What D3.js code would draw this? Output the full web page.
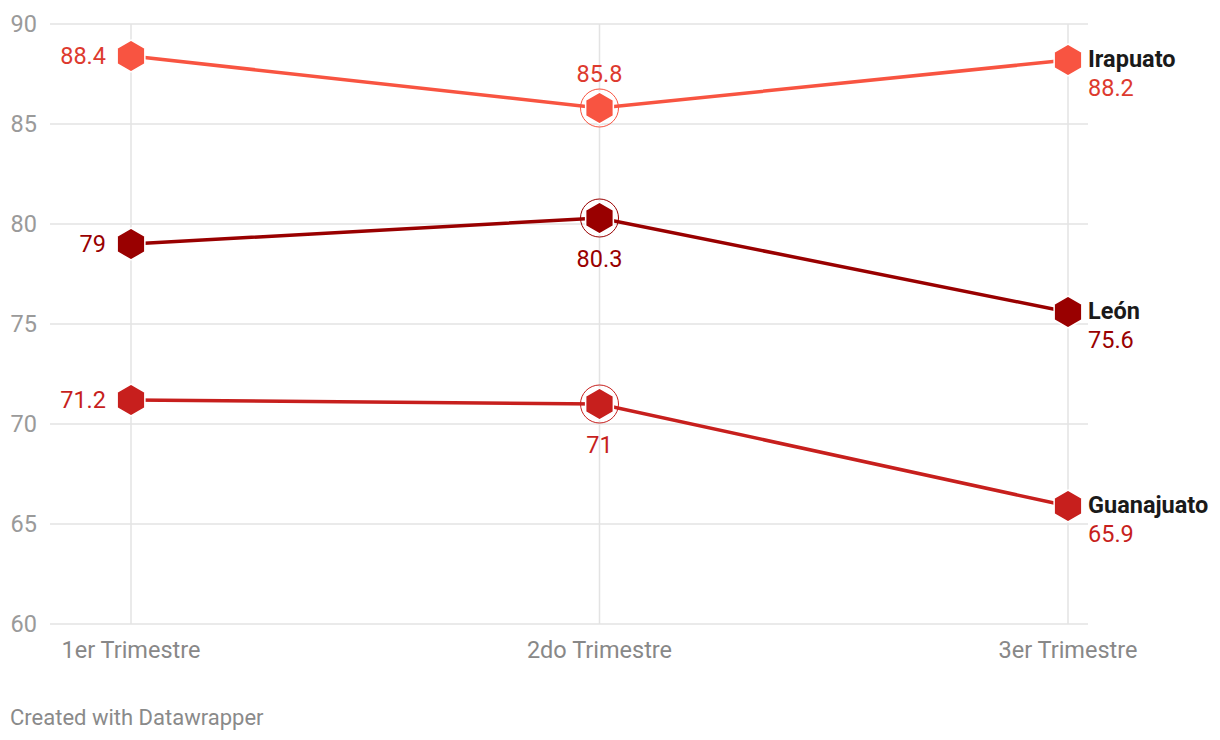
<!DOCTYPE html>
<html><head><meta charset="utf-8">
<script src="https://cdn.jsdelivr.net/npm/d3@7"></script>
<style>
body{margin:0;background:#fff;font-family:Roboto,"Noto Sans",sans-serif;}
svg{display:block;}
</style></head>
<body>
<script>
const categories = ["1er Trimestre", "2do Trimestre", "3er Trimestre"];
const seriesNames = ["Irapuato", "León", "Guanajuato"];
const irapuato = [88.4, 85.8, 88.2];
const leon = [79, 80.3, 75.6];
const guanajuato = [71.2, 71, 65.9];
const yTicks = [60, 65, 70, 75, 80, 85, 90];
const lineColors = ["#f85441", "#990000", "#c71f1d"];
const labelColors = ["#dd3a2e", "#990000", "#c71f1d"];
const midLabelPos = ["above", "below", "below"];

const series = [irapuato, leon, guanajuato].map((v, i) => ({
  name: seriesNames[i], values: v, color: lineColors[i], label: labelColors[i], mid: midLabelPos[i]
}));

const W = 1220, H = 740;
const FS = "23.5px";
const svg = d3.select("body").append("svg").attr("width", W).attr("height", H);

const x = d3.scalePoint().domain(categories).range([131, 1068]);
const y = d3.scaleLinear().domain([60, 90]).range([624, 24]);
const gridLeft = 50, gridRight = 1088;

svg.append("g").selectAll("line").data(yTicks).join("line")
  .attr("x1", gridLeft).attr("x2", gridRight)
  .attr("y1", d => y(d)).attr("y2", d => y(d))
  .attr("stroke", "#e3e3e3").attr("stroke-width", 1.5);
svg.append("g").selectAll("line").data(categories).join("line")
  .attr("x1", d => x(d)).attr("x2", d => x(d))
  .attr("y1", y(90)).attr("y2", y(60))
  .attr("stroke", "#e3e3e3").attr("stroke-width", 1.5);

svg.append("g").selectAll("text").data(yTicks).join("text")
  .attr("x", 37).attr("y", d => y(d)).attr("dy", "0.35em")
  .attr("text-anchor", "end").attr("fill", "#9a9a9a")
  .style("font-size", FS).text(d => d);

svg.append("g").selectAll("text").data(categories).join("text")
  .attr("x", d => x(d)).attr("y", 650).attr("dy", "0.35em")
  .attr("text-anchor", "middle").attr("fill", "#888")
  .style("font-size", FS).text(d => d);

const hex = (cx, cy, r) => {
  const pts = d3.range(6).map(k => {
    const a = Math.PI / 3 * k - Math.PI / 2;
    return [cx + r * Math.cos(a), cy + r * Math.sin(a)];
  });
  return "M" + pts.map(p => p.join(",")).join("L") + "Z";
};

const line = d3.line().x((d, i) => x(categories[i])).y(d => y(d));

series.forEach(s => {
  const g = svg.append("g");
  g.append("path").datum(s.values).attr("d", line)
    .attr("fill", "none").attr("stroke", s.color).attr("stroke-width", 3.5);
  g.append("circle").attr("cx", x(categories[1])).attr("cy", y(s.values[1]))
    .attr("r", 19).attr("fill", "none").attr("stroke", s.color).attr("stroke-width", 1);
  s.values.forEach((v, i) => {
    g.append("path").attr("d", hex(x(categories[i]), y(v), 16))
      .attr("fill", s.color).attr("stroke", "#fff").attr("stroke-width", 1.5);
  });
  g.append("text").attr("x", x(categories[0]) - 25).attr("y", y(s.values[0])).attr("dy", "0.35em")
    .attr("text-anchor", "end").attr("fill", s.label).style("font-size", FS)
    .text(s.values[0]);
  g.append("text").attr("x", x(categories[1]))
    .attr("y", s.mid === "above" ? y(s.values[1]) - 34 : y(s.values[1]) + 41).attr("dy", "0.35em")
    .attr("text-anchor", "middle").attr("fill", s.label).style("font-size", FS)
    .text(s.values[1]);
  g.append("text").attr("x", 1088).attr("y", y(s.values[2]) - 1).attr("dy", "0.35em")
    .attr("fill", "#1a1a1a").style("font-size", FS).style("font-weight", "bold")
    .text(s.name);
  g.append("text").attr("x", 1088).attr("y", y(s.values[2]) + 28).attr("dy", "0.35em")
    .attr("fill", s.label).style("font-size", FS)
    .text(s.values[2]);
});

svg.append("text").attr("x", 10).attr("y", 717).attr("dy", "0.35em")
  .attr("fill", "#8a8a8a").style("font-size", "22px").text("Created with Datawrapper");
</script>
</body></html>
